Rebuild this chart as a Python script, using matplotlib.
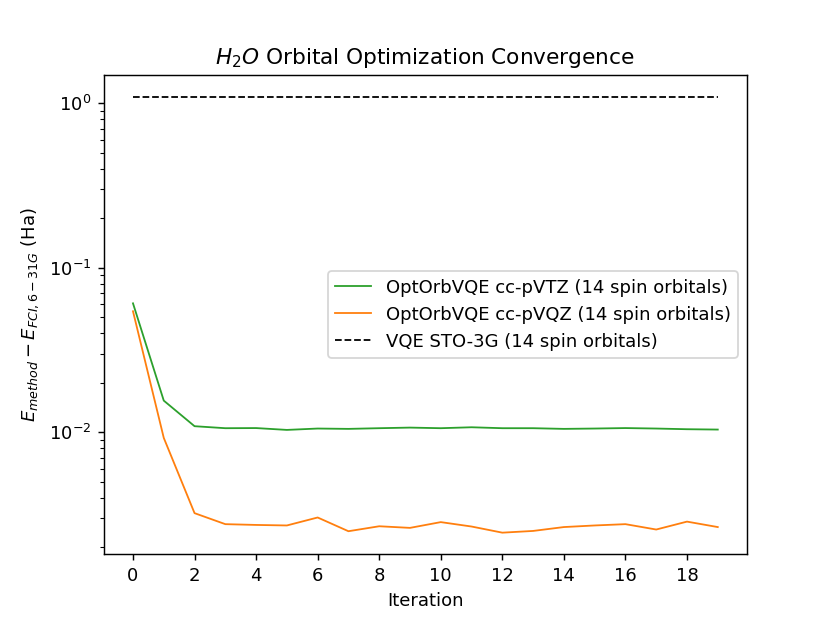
import matplotlib
matplotlib.use("Agg")
import matplotlib.pyplot as plt
import numpy as np

iterations = list(range(20))
vtz_err = [0.0608, 0.01557, 0.01088, 0.01058, 0.0106, 0.01033, 0.01053, 0.01048,
           0.01058, 0.01067, 0.01058, 0.01072, 0.01058, 0.01058, 0.01048, 0.01053,
           0.0106, 0.01053, 0.01043, 0.01038]
vqz_err = [0.0544, 0.00924, 0.00322, 0.00276, 0.00273, 0.00271, 0.00303, 0.00250,
           0.00268, 0.00262, 0.00284, 0.00267, 0.00245, 0.00251, 0.00265, 0.00271,
           0.00276, 0.00256, 0.00286, 0.00265]
sto3g_err = 1.10

labels = ["OptOrbVQE cc-pVTZ (14 spin orbitals)",
          "OptOrbVQE cc-pVQZ (14 spin orbitals)",
          "VQE STO-3G (14 spin orbitals)"]

fig, ax = plt.subplots(figsize=(830/130, 623/130), dpi=130)
ax.plot(iterations, vtz_err, color="#2ca02c", lw=1.0, label=labels[0])
ax.plot(iterations, vqz_err, color="#ff7f0e", lw=1.0, label=labels[1])
ax.plot(iterations, [sto3g_err]*len(iterations), "k--", lw=1.0, label=labels[2])
ax.set_yscale("log")
ax.set_xticks(np.arange(0, 20, 2))
ax.set_xlabel("Iteration")
ax.set_ylabel(r"$E_{method} - E_{FCI, 6-31G}$ (Ha)")
ax.set_title(r"$H_2O$ Orbital Optimization Convergence")
ax.legend(loc="center right")
fig.savefig("out.png", dpi=130)
